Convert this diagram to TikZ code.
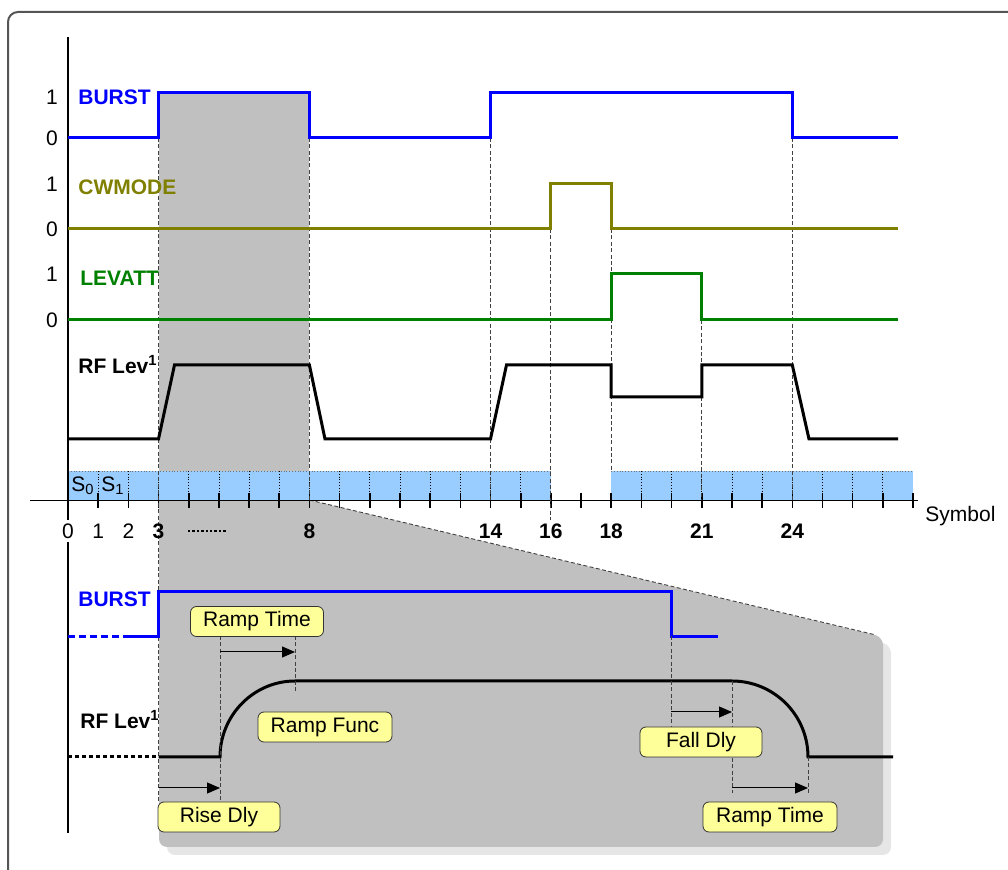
\documentclass[tikz,border=0pt]{standalone}
\usepackage{fontspec}
\setmainfont{Liberation Sans}
\usetikzlibrary{arrows.meta}
\definecolor{burstblue}{HTML}{0000FF}
\definecolor{cwolive}{HTML}{808000}
\definecolor{levgreen}{HTML}{008000}
\definecolor{symblue}{HTML}{99CCFF}
\definecolor{zoomgray}{HTML}{C0C0C0}
\definecolor{shadowgray}{HTML}{E6E6E6}
\definecolor{tagyellow}{HTML}{FFFF99}
\definecolor{framegray}{HTML}{555555}
\tikzset{
  sig/.style={line width=1.5pt},
  guide/.style={black!75, line width=0.45pt, dash pattern=on 2pt off 1.2pt},
  tag/.style={draw=black!80, fill=tagyellow, rounded corners=3pt, minimum height=15pt,
    inner sep=0pt, font=\fontsize{10.5}{12}\selectfont},
  lbl/.style={anchor=west, inner sep=0pt, font=\fontsize{10.5}{12}\selectfont\bfseries},
  lvl/.style={inner sep=0pt, font=\fontsize{10.5}{12}\selectfont},
  numlbl/.style={inner sep=0pt, font=\fontsize{10.5}{12}\selectfont\bfseries},
  timearrow/.style={-{Triangle[length=6.5pt,width=5.5pt]}, line width=0.5pt}
}
\begin{document}
\begin{tikzpicture}[x=0.5pt, y=-0.5pt]
  \useasboundingbox (0,0) rectangle (1008,870);
  \clip (0,0) rectangle (1008,870);

  % Frame
  \draw[framegray, line width=1pt, rounded corners=5pt] (8,12) rectangle (1040,900);

  % Zoomed area
  \fill[shadowgray, rounded corners=4pt] (167,508) -- (317.4,508) -- (891,645) -- (891,855) -- (167,855) -- cycle;
  \fill[zoomgray, rounded corners=4pt] (159,500) -- (309.4,500) -- (883,637) -- (883,847) -- (159,847) -- cycle;
  \fill[zoomgray] (158.5,93) rectangle (309.4,510);
  \draw[guide] (309.4,500) -- (876,635);

  % Symbol grid
  \fill[symblue] (68,471) rectangle (550.9,500);
  \fill[symblue] (611.2,471) rectangle (913,500);
  \draw[densely dotted, black!55, line width=0.4pt] (68,471) -- (550.9,471) (611.2,471) -- (913,471);
  \foreach \n in {1,...,15,19,20,...,27}
    \draw[densely dotted, line width=0.4pt] ({68+30.18*\n},471) -- ({68+30.18*\n},493);
  \foreach \n in {0,...,28}
    \draw[line width=0.8pt] ({68+30.18*\n},493) -- ({68+30.18*\n},508);
  \node[lvl] (s0) at (83,486) {S\textsubscript{0}};
  \node[lvl] (s1) at (113,486) {S\textsubscript{1}};

  % Axes
  \draw[line width=0.8pt] (68,37) -- (68,833);
  \draw[line width=0.8pt] (30,500.5) -- (918,500.5);
  \node[lvl, anchor=west] (symb) at (925,516) {Symbol};

  % Guides
  \draw[guide] (158.5,138) -- (158.5,802);
  \draw[guide] (309.4,93) -- (309.4,500);
  \draw[guide] (490.5,138) -- (490.5,500);
  \draw[guide] (550.9,229) -- (550.9,520);
  \draw[guide] (611.2,229) -- (611.2,471);
  \draw[guide] (701.8,320) -- (701.8,500);
  \draw[guide] (792.3,138) -- (792.3,500);

  % Symbol numbers
  \node[lvl, fill=white, inner sep=2pt] (n0) at (68,531) {0};
  \foreach \n in {1,2}
    \node[lvl] (n\n) at ({68+30.18*\n},531) {\n};
  \foreach \n in {3,8,14,16,18,21,24}
    \node[numlbl] (n\n) at ({68+30.18*\n},531) {\n};
  \draw[line width=0.6pt, dash pattern=on 1.2pt off 1pt] (188,531) -- (226,531);

  % Levels
  \foreach \y/\t in {97/1,138/0,184/1,229/0,274/1,320/0}
    \node[lvl] at (52,\y) {\t};

  % BURST
  \draw[sig, burstblue] (68,138) -- (158.5,138) -- (158.5,93) -- (309.4,93) -- (309.4,138)
    -- (490.5,138) -- (490.5,93) -- (792.3,93) -- (792.3,138) -- (898,138);
  \node[lbl, text=burstblue] (burst) at (78,97) {BURST};

  % CWMODE
  \draw[sig, cwolive] (68,229) -- (550.9,229) -- (550.9,184) -- (611.2,184) -- (611.2,229) -- (898,229);
  \node[lbl, text=cwolive] (cwmode) at (78,187) {CWMODE};

  % LEVATT
  \draw[sig, levgreen] (68,320) -- (611.2,320) -- (611.2,274) -- (701.8,274) -- (701.8,320) -- (898,320);
  \node[lbl, text=levgreen] (levatt) at (80,278) {LEVATT};

  % RF Lev
  \draw[sig] (68,439) -- (158.5,439) -- (174.5,365) -- (309.4,365) -- (325,439) -- (490.5,439)
    -- (506.5,365) -- (611.2,365) -- (611.2,397) -- (701.8,397) -- (701.8,365) -- (792.3,365)
    -- (809,439) -- (898,439);
  \node[lbl] (rflev) at (78,365) {RF Lev\textsuperscript{1}};

  % Zoom: BURST
  \draw[sig, burstblue, dash pattern=on 3.5pt off 2pt] (68,636.5) -- (127,636.5);
  \draw[sig, burstblue] (127,636.5) -- (158.5,636.5) -- (158.5,592) -- (671,592) -- (671,636.5) -- (718,636.5);
  \node[lbl, text=burstblue] (zburst) at (78,599) {BURST};

  % Zoom: RF Lev
  \draw[sig, dash pattern=on 2pt off 1.5pt] (68,757) -- (158.5,757);
  \draw[sig] (158.5,757) -- (220,757) .. controls (220,715) and (254,681) .. (295,681)
    -- (732,681) .. controls (774,681) and (808,715) .. (808,757) -- (893,757);
  \node[lbl] (zrflev) at (80,720) {RF Lev\textsuperscript{1}};

  % Ramp timing
  \draw[guide] (220,636) -- (220,802);
  \draw[guide] (295,636) -- (295,693);
  \draw[guide] (671,636) -- (671,727);
  \draw[guide] (732,681) -- (732,793);
  \draw[guide] (808,757) -- (808,793);

  \coordinate (risea) at (158.5,788);
  \coordinate (riseb) at (220,788);
  \coordinate (rampa) at (220,652);
  \coordinate (rampb) at (295,652);
  \coordinate (falla) at (671,712);
  \coordinate (fallb) at (732,712);
  \coordinate (rampc) at (732,788);
  \coordinate (rampd) at (808,788);
  \draw[timearrow] (rampa) -- (rampb);
  \draw[timearrow] (risea) -- (riseb);
  \draw[timearrow] (falla) -- (fallb);
  \draw[timearrow] (rampc) -- (rampd);

  \node[tag, minimum width=66.5pt] (ramptime) at (257,621.5) {Ramp Time};
  \node[tag, minimum width=67pt] (rampfunc) at (325,727) {Ramp Func};
  \node[tag, minimum width=61pt] (risedly) at (219,817) {Rise Dly};
  \node[tag, minimum width=61pt] (falldly) at (701,742) {Fall Dly};
  \node[tag, minimum width=67pt] (ramptime2) at (770,817) {Ramp Time};
\end{tikzpicture}
\end{document}
